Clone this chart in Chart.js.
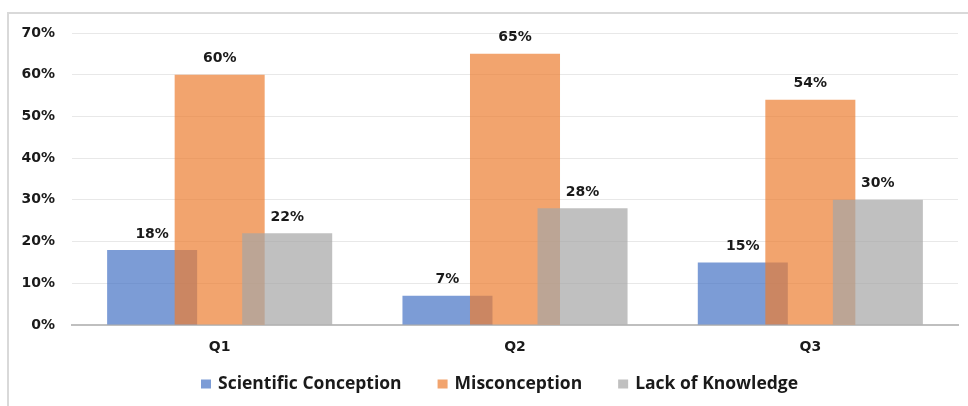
<!DOCTYPE html>
<html>
<head>
<meta charset="utf-8">
<script src="https://cdn.jsdelivr.net/npm/chart.js@4/dist/chart.umd.min.js"></script>
<style>
  html, body { margin: 0; padding: 0; background: #ffffff; }
  canvas { display: block; }
</style>
</head>
<body>
<canvas id="chart" width="968" height="406"></canvas>
<script>
// Share of answers per question (%)
const categories = ['Q1', 'Q2', 'Q3'];
const scientificConception = [18, 7, 15];
const misconception = [60, 65, 54];
const lackOfKnowledge = [22, 28, 30];
const yTicks = [0, 10, 20, 30, 40, 50, 60, 70];

const seriesNames = ['Scientific Conception', 'Misconception', 'Lack of Knowledge'];
const seriesColors = ['rgba(68,114,196,0.7)', 'rgba(237,125,49,0.7)', 'rgba(165,165,165,0.7)'];

// Light frame around the chart
const framePlugin = {
  id: 'frame',
  beforeDraw(chart) {
    const ctx = chart.ctx;
    ctx.save();
    ctx.fillStyle = '#ffffff';
    ctx.fillRect(0, 0, chart.width, chart.height);
    ctx.strokeStyle = '#d9d9d9';
    ctx.lineWidth = 2;
    ctx.beginPath();
    ctx.moveTo(8, chart.height + 2);
    ctx.lineTo(8, 13);
    ctx.lineTo(chart.width + 2, 13);
    ctx.stroke();
    ctx.restore();
  }
};

// Paint series left to right so each later series overlaps the previous one
const paintOrderPlugin = {
  id: 'paintOrder',
  beforeDatasetsDraw(chart) {
    for (let i = 0; i < chart.data.datasets.length; i++) {
      const meta = chart.getDatasetMeta(i);
      if (chart.isDatasetVisible(i)) meta.controller.draw();
    }
    return false;
  }
};

// Value labels above each bar
const valueLabelPlugin = {
  id: 'valueLabels',
  afterDraw(chart) {
    const ctx = chart.ctx;
    ctx.save();
    ctx.font = 'bold 14px "DejaVu Sans", sans-serif';
    ctx.fillStyle = '#1a1a1a';
    ctx.textAlign = 'center';
    ctx.textBaseline = 'middle';
    chart.data.datasets.forEach((ds, i) => {
      const meta = chart.getDatasetMeta(i);
      meta.data.forEach((bar, j) => {
        ctx.fillText(ds.data[j] + '%', bar.x, bar.y - 16);
      });
    });
    ctx.restore();
  }
};

// Legend row under the axis
const legendRowPlugin = {
  id: 'legendRow',
  afterDraw(chart) {
    const ctx = chart.ctx;
    const startX = 201, centerY = 384, box = 10, gap = 7, spacing = 36;
    ctx.save();
    ctx.font = 'bold 17.5px "Open Sans", sans-serif';
    ctx.textBaseline = 'middle';
    ctx.textAlign = 'left';
    let x = startX;
    chart.data.datasets.forEach(ds => {
      ctx.fillStyle = ds.backgroundColor;
      ctx.fillRect(x, centerY - 4.5, box, 9);
      x += box + gap;
      ctx.fillStyle = '#1a1a1a';
      ctx.fillText(ds.label, x, centerY);
      x += ctx.measureText(ds.label).width + spacing;
    });
    ctx.restore();
  }
};

const valueSets = [scientificConception, misconception, lackOfKnowledge];

new Chart(document.getElementById('chart'), {
  type: 'bar',
  data: {
    labels: categories,
    datasets: valueSets.map((vals, i) => ({
      label: seriesNames[i],
      data: vals,
      backgroundColor: seriesColors[i],
      borderWidth: 0,
      categoryPercentage: 0.686,
      barPercentage: 1.333
    }))
  },
  options: {
    responsive: false,
    devicePixelRatio: 1,
    animation: false,
    layout: { padding: { left: 7, right: 10, top: 33, bottom: 41 } },
    plugins: {
      tooltip: { enabled: false },
      legend: { display: false }
    },
    scales: {
      x: {
        grid: { display: false, drawTicks: false },
        border: { display: true, color: '#bfbfbf', width: 2 },
        ticks: {
          padding: 14,
          color: '#1a1a1a',
          font: { family: '"DejaVu Sans", sans-serif', weight: 'bold', size: 14 }
        },
        afterFit(scale) { scale.height = 40; }
      },
      y: {
        min: yTicks[0],
        max: yTicks[yTicks.length - 1],
        afterBuildTicks(scale) { scale.ticks = yTicks.map(v => ({ value: v })); },
        grid: { color: '#e8e8e8', lineWidth: 1, drawTicks: false },
        border: { display: false },
        ticks: {
          padding: 17,
          color: '#1a1a1a',
          font: { family: '"DejaVu Sans", sans-serif', weight: 'bold', size: 14 },
          callback: v => v + '%'
        },
        afterFit(scale) { scale.width = 65; }
      }
    }
  },
  plugins: [framePlugin, paintOrderPlugin, valueLabelPlugin, legendRowPlugin]
});
</script>
</body>
</html>
